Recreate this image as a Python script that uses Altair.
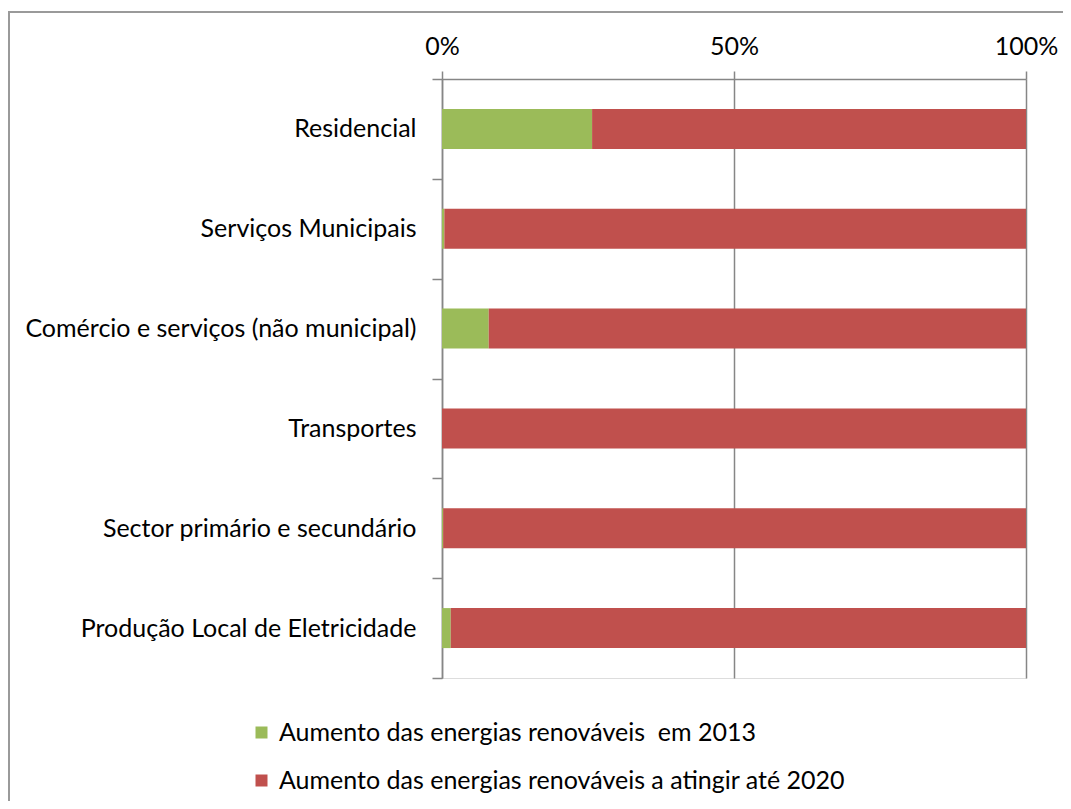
import altair as alt
import pandas as pd

categories = [
    "Residencial",
    "Serviços Municipais",
    "Comércio e serviços (não municipal)",
    "Transportes",
    "Sector primário e secundário",
    "Produção Local de Eletricidade",
]
series = [
    "Aumento das energias renováveis\u00a0 em 2013",
    "Aumento das energias renováveis a atingir até 2020",
]
renovaveis_2013 = [25.7, 0.4, 8.0, 0.0, 0.2, 1.5]
atingir_2020 = [74.3, 99.6, 92.0, 100.0, 99.8, 98.5]
colors = ["#9BBB59", "#C0504D"]

rows = []
for c, a, b in zip(categories, renovaveis_2013, atingir_2020):
    rows.append({"cat": c, "serie": series[0], "val": a, "ord": 0})
    rows.append({"cat": c, "serie": series[1], "val": b, "ord": 1})
df = pd.DataFrame(rows)

FONT = "Lato"
FS = 25
W, H = 584, 599

bars = alt.Chart(df).mark_bar(size=40).encode(
    y=alt.Y("cat:N", sort=categories, title=None,
            scale=alt.Scale(paddingInner=0, paddingOuter=0),
            axis=alt.Axis(tickBand="extent", tickSize=10, labelPadding=16,
                          labelFontSize=FS, labelFont=FONT, labelColor="#000000",
                          domainColor="#868686", tickColor="#868686",
                          domainWidth=1.5, tickWidth=1.5, labelLimit=600)),
    x=alt.X("val:Q", stack="normalize", title=None,
            scale=alt.Scale(domain=[0, 1], nice=False),
            axis=alt.Axis(orient="top", values=[0, 0.5, 1], format=".0%",
                          tickSize=8, labelPadding=12, labelFontSize=FS,
                          labelFont=FONT, labelColor="#000000", labelFlush=False,
                          grid=True, gridColor="#868686", gridWidth=1.5,
                          domainColor="#868686", tickColor="#868686",
                          domainWidth=1.5, tickWidth=1.5)),
    color=alt.Color("serie:N", sort=series,
                    scale=alt.Scale(domain=series, range=colors),
                    legend=alt.Legend(title=None, orient="none", legendX=-193, legendY=641,
                                      symbolType="square", symbolSize=144,
                                      symbolStrokeWidth=0, labelFontSize=FS,
                                      labelFont=FONT, labelColor="#000000",
                                      rowPadding=22, labelOffset=5, labelLimit=900,
                                      direction="vertical")),
    order=alt.Order("ord:Q"),
)

one = pd.DataFrame({"b": [0]})
border_top = alt.Chart(one).mark_rule(stroke="#9a9a9a", strokeWidth=2).encode(
    x=alt.value(-433), x2=alt.value(700), y=alt.value(-67),
)
border_left = alt.Chart(one).mark_rule(stroke="#9a9a9a", strokeWidth=2).encode(
    x=alt.value(-433), y=alt.value(-68), y2=alt.value(800),
)

chart = alt.layer(border_top, border_left, bars).properties(
    width=W, height=H,
    autosize=alt.AutoSizeParams(type="none"),
    padding={"left": 434, "top": 71, "right": 37, "bottom": 123},
).configure_view(stroke=None).configure(background="white")

chart.save("out.html", embed_options={"renderer": "svg", "actions": False})
